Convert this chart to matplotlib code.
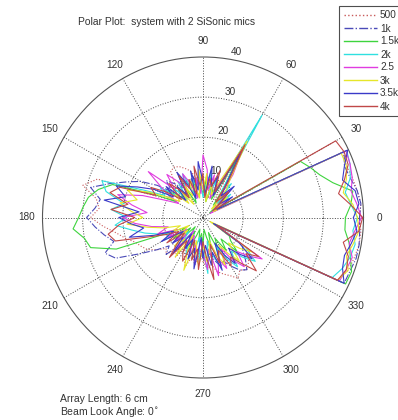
import numpy as np
import matplotlib
matplotlib.use("Agg")
import matplotlib.pyplot as plt

plt.rcParams['font.family'] = ['Liberation Sans', 'DejaVu Sans']

# angles in degrees (5 degree grid)
angles_deg = list(range(0, 360, 5))

labels = ['500', '1k', '1.5k', '2k', '2.5', '3k', '3.5k', '4k']

r_500 = [39, 39.5, 39, 38.5, 38, 38.5, 3, 5, 6, 4, 7, 5, 12, 6, 8, 5, 9, 6,
         7, 8, 10, 12, 13, 14, 14.5, 14, 11, 8, 10, 7, 9, 12, 28, 31, 27, 26,
         28, 25, 22, 20, 18, 17, 16, 14, 12, 13, 10, 12, 9, 11, 13, 10, 12, 9,
         11, 13, 12, 14, 15, 16, 17.5, 16, 17, 16, 15, 14, 4, 37, 38.5, 39, 39.5, 39.5]
r_1k = [39, 39.5, 39, 38, 37.5, 38.8, 4, 8, 6, 9, 7, 10, 16, 8, 10, 7, 11, 9,
        8, 10, 9, 11, 8, 10, 12, 9, 11, 13, 10, 14, 18, 21, 24.7, 29, 26, 27,
        29, 27, 25, 23, 26, 24, 18, 14, 11, 13, 9, 11, 8, 10, 7, 9, 11, 8,
        10, 12, 9, 11, 13, 12, 14, 16, 17, 15, 13, 12, 3, 38.8, 39, 39.5, 39.5, 39.2]
r_1500 = [35.5, 37, 37.9, 33.5, 31, 29.5, 28, 2, 5, 8, 4, 9, 18, 5, 7, 9, 4, 10,
          6, 8, 5, 9, 7, 4, 8, 6, 10, 7, 9, 12, 8, 14, 24, 27, 29, 30,
          31, 32.5, 30, 29, 23, 8, 5, 9, 4, 7, 3, 6, 4, 8, 5, 3, 6, 4,
          7, 3, 5, 8, 4, 9, 6, 10, 7, 12, 9, 8, 3, 39.2, 39.4, 38, 37, 35.5]
r_2k = [38.5, 37, 36, 38, 39, 39.5, 3, 6, 9, 5, 11, 8, 29.5, 7, 10, 6, 12, 8,
        5, 11, 7, 10, 6, 12, 9, 11, 6, 10, 8, 13, 11, 16, 26.8, 25, 20, 23,
        19, 22, 18, 15, 12, 9, 11, 6, 9, 5, 8, 4, 7, 10, 6, 9, 5, 11,
        8, 14, 6, 10, 13, 8, 12, 15, 11, 14, 17, 13, 4, 35.5, 37, 38, 38.5, 37.5]
r_2500 = [39.5, 38.5, 37.5, 38.5, 39, 39.3, 2, 7, 4, 10, 6, 13, 20, 9, 5, 11, 7, 12,
          15.6, 6, 10, 5, 9, 12, 8, 11, 14, 10, 17.8, 12, 7, 10, 16, 22, 18, 14,
          20, 17, 13, 9, 12, 7, 10, 5, 9, 6, 11, 4, 8, 5, 10, 7, 12, 6,
          9, 13, 8, 15, 11, 14, 9, 13, 16, 12, 15, 18, 3, 37.5, 38, 38.5, 37, 38]
r_3k = [38.5, 37.5, 35.5, 37, 38, 38, 3, 5, 8, 3, 9, 12, 22, 10, 6, 9, 4, 11,
        7, 12, 5, 8, 10, 6, 9, 4, 8, 5, 9, 7, 10, 15, 20, 17, 21, 18,
        15, 19, 14, 10, 6, 9, 4, 8, 5, 10, 7, 12, 5, 9, 14, 6, 10, 12,
        7, 11, 9, 6, 10, 13, 8, 11, 14, 9, 12, 15, 2, 37, 38.5, 37, 38, 39]
r_3500 = [37.5, 39, 38.5, 36, 37.5, 39.8, 4, 9, 5, 11, 7, 10, 19, 6, 11, 8, 13, 6,
          9, 14, 7, 12, 5, 9, 13, 7, 10, 6, 12, 9, 14, 18, 23, 20, 25, 16,
          21, 18, 15, 19, 13, 8, 12, 6, 10, 7, 12, 5, 9, 6, 11, 8, 13, 5,
          10, 7, 12, 9, 14, 7, 11, 14, 10, 13, 16, 11, 3, 38.8, 37, 36.5, 37.5, 38.5]
r_4k = [39.8, 36.9, 34.3, 36.5, 38.5, 38.8, 38.2, 3, 6, 9, 5, 11, 21, 7, 12.5, 8, 10, 5,
        11, 8, 13, 6, 10, 8, 12, 6, 9, 12, 7, 11, 15, 13, 22, 24, 19, 23,
        17, 21, 24, 22.6, 14, 10, 7, 11, 6, 9, 13, 7, 10, 12, 6, 11, 8, 13,
        6, 10, 15.7, 7, 12, 9, 14, 12, 15, 18.8, 14, 17, 4, 37, 38, 37.5, 35.5, 39]

series = [r_500, r_1k, r_1500, r_2k, r_2500, r_3k, r_3500, r_4k]
colors = ['#c85a5a', '#4a4ab8', '#3ed43e', '#2fe0e0', '#e03ce0', '#e6e62a', '#3a3ac8', '#c04848']
styles = [':', '-.', '-', '-', '-', '-', '-', '-']

fig = plt.figure(figsize=(3.98, 4.2), dpi=100)
fig.patch.set_facecolor('white')

cx, cy, R = 203.0, 217.5, 160.5
W, H = 398.0, 420.0
ax = fig.add_axes([(cx - R) / W, (H - cy - R) / H, 2 * R / W, 2 * R / H], projection='polar')

th = np.deg2rad(np.append(angles_deg, angles_deg[0]))
lines = []
for r, c, ls, lab in zip(series, colors, styles, labels):
    rr = np.append(r, r[0])
    ln, = ax.plot(th, rr, color=c, linestyle=ls, lw=0.8, label=lab, zorder=3)
    lines.append(ln)

ax.set_ylim(0, 40)
ax.set_yticks([10, 20, 30])
ax.set_xticks(np.deg2rad(np.arange(0, 360, 30)))
ax.set_xticklabels([])
ax.set_yticklabels([])
ax.grid(True, linestyle=':', color='#444444', lw=0.7)
ax.spines['polar'].set_color('#555555')
ax.spines['polar'].set_linewidth(0.8)
ax.tick_params(length=0)

txtc = '#333333'
fs = 7.2
for a in range(0, 360, 30):
    ax.text(np.deg2rad(a), 44, str(a), ha='center', va='center', fontsize=fs,
            color=txtc, clip_on=False)
for rv in [10, 20, 30, 40]:
    ax.text(np.deg2rad(80), rv + 0.5, str(rv), ha='left', va='bottom', fontsize=fs,
            color=txtc, clip_on=False, zorder=1.5)

fig.text(167 / W, 1 - 22 / H, 'Polar Plot:  system with 2 SiSonic mics', ha='center',
         va='center', fontsize=7.4, color=txtc)
fig.text(60 / W, 1 - 399 / H, 'Array Length: 6 cm', ha='left', va='center',
         fontsize=7.5, color=txtc)
fig.text(60 / W, 1 - 412 / H, r'Beam Look Angle: 0$^{\circ}$', ha='left', va='center',
         fontsize=7.5, color=txtc)

leg = fig.legend(handles=lines, loc='upper left', bbox_to_anchor=(339 / W, 1 - 6 / H),
                 fontsize=fs, frameon=True, fancybox=False, handlelength=3.3,
                 handletextpad=0.35, labelspacing=0.3, borderpad=0.45,
                 borderaxespad=0)
leg.get_frame().set_edgecolor('#222222')
leg.get_frame().set_linewidth(0.8)
for t in leg.get_texts():
    t.set_color(txtc)
for h in leg.legend_handles:
    h.set_linewidth(1.0)

fig.savefig('out.png', dpi=100)
